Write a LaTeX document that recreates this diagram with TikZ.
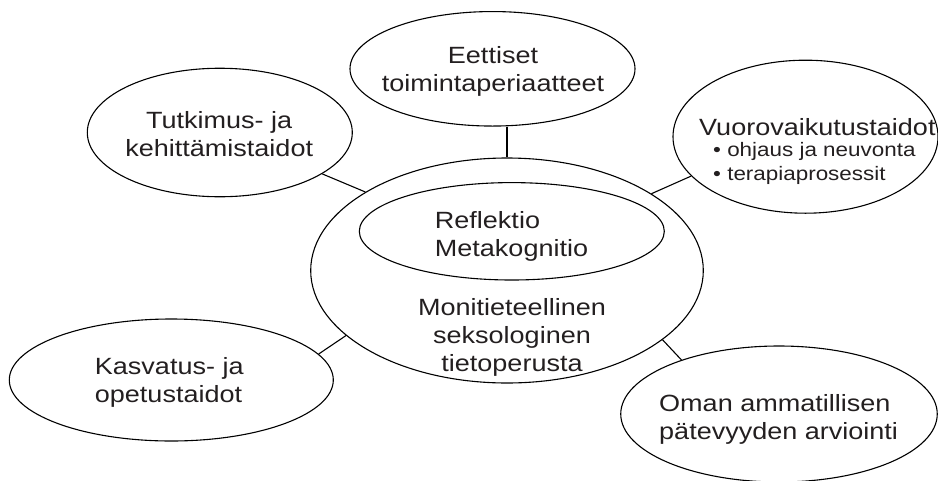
\documentclass[tikz,border=0pt]{standalone}
\usepackage{fontspec}
\setmainfont{Liberation Sans}[FakeStretch=1.15]
\usetikzlibrary{shapes.geometric}
\definecolor{txtc}{RGB}{35,31,32}
\begin{document}
\begin{tikzpicture}[x=1pt,y=-1pt,
  oval/.style={draw=black, line width=1.1pt, ellipse, inner sep=0pt},
  lbl/.style={text=txtc, inner sep=0pt, font=\fontsize{23.5}{28}\selectfont},
  sml/.style={text=txtc, inner sep=0pt, font=\fontsize{19.5}{23.3}\selectfont},
  link/.style={draw=black, line width=1.1pt}]
\useasboundingbox (0,0) rectangle (938,480);

% ellipses
\node[oval, minimum width=265pt, minimum height=128.5pt] (tut) at (219.8,132.5) {};
\node[oval, minimum width=285pt, minimum height=114.5pt] (eet) at (492.5,68.8) {};
\node[oval, minimum width=265pt, minimum height=153pt] (vuo) at (805.5,136.7) {};
\node[oval, minimum width=324pt, minimum height=122pt] (kas) at (171.3,380) {};
\node[oval, minimum width=316.5pt, minimum height=136pt] (oma) at (779,414) {};
\node[oval, minimum width=392.6pt, minimum height=225pt] (cen) at (507,270.5) {};
\node[oval, minimum width=305pt, minimum height=97.4pt] (inn) at (511.8,231.3) {};

% texts (base anchor = baseline of the last line)
\node[lbl, align=center, anchor=base] (tutT) at (219.2,156.2) {Tutkimus- ja\\kehittämistaidot};
\node[lbl, align=center, anchor=base] (eetT) at (493,91.5) {Eettiset\\toimintaperiaatteet};
\node[lbl, anchor=base west] (vuoT) at (699,135) {Vuorovaikutustaidot};
\node[sml, align=left, anchor=base west] (vuoL) at (713,180) {• ohjaus ja neuvonta\\• terapiaprosessit};
\node[lbl, align=left, anchor=base west] (innT) at (434.7,256.8) {Reflektio\\Metakognitio};
\node[lbl, align=center, anchor=base] (cenT) at (512,371) {Monitieteellinen\\seksologinen\\tietoperusta};
\node[lbl, align=left, anchor=base west] (kasT) at (94.7,402.8) {Kasvatus- ja\\opetustaidot};
\node[lbl, align=left, anchor=base west] (omaT) at (659,439.5) {Oman ammatillisen\\pätevyyden arviointi};

% connectors
\draw[link] (tut.-22) -- (cen.151);
\draw[link] (cen.north) -- (cen.north |- eet.south);
\draw[link] (cen.28) -- (vuo.199);
\draw[link] (kas.10) -- (cen.202);
\draw[link] (cen.-24) -- (oma.151);
\end{tikzpicture}
\end{document}
